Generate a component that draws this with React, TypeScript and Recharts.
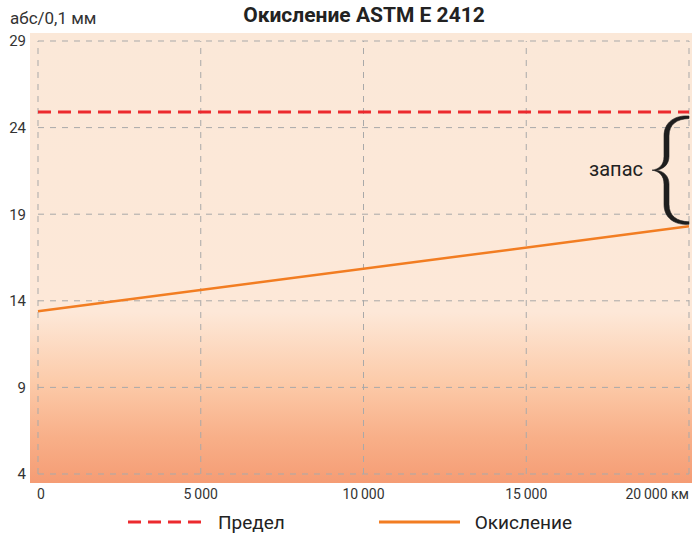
import React from "react";
import {
  LineChart, Line, XAxis, YAxis, CartesianGrid, ReferenceLine, Legend,
} from "recharts";

// пробег, км
const kmPoints = [0, 20000];
const limitValues = [24.9, 24.9];
const oxidationValues = [13.4, 18.3];

const xTicks = [0, 5000, 10000, 15000, 20000];
const xTickLabels = ["0", "5\u2009000", "10\u2009000", "15\u2009000", "20\u2009000\u00a0км"];
const yTicks = [4, 9, 14, 19, 24, 29];

const limitData = kmPoints.map((x, i) => ({ x, y: limitValues[i] }));
const oxidationData = kmPoints.map((x, i) => ({ x, y: oxidationValues[i] }));

const FONT = "Roboto, 'DejaVu Sans', sans-serif";
const RED = "#ec2a2e";
const ORANGE = "#f27d22";
const GRID = "#a9a9a9";

const XTick = (props: any) => {
  const { x, y, index } = props;
  const last = index === xTicks.length - 1;
  const anchor = index === 0 ? "start" : last ? "end" : "middle";
  return (
    <text x={index === 0 ? x - 1 : x} y={y} dy="0.71em" textAnchor={anchor}
      fontSize={14} fill="#333" fontFamily={FONT}>
      {xTickLabels[index]}
    </text>
  );
};

// фигурная скобка "запас" между пределом и концом линии
const Brace = (props: any) => {
  const { x1, y1, y2 } = props;
  const X = x1;
  const T = Math.min(y1, y2) + 4;
  const B = Math.max(y1, y2) - 2;
  const M = (T + B) / 2;
  const S = X - 22;
  const d = `M${X},${T} C${X - 14},${T - 1} ${S - 3},${T + 6} ${S - 3},${T + 20}
    L${S - 3},${M - 14} C${S - 3},${M - 5} ${S - 8},${M - 1} ${X - 37},${M}
    C${S - 8},${M + 1} ${S - 3},${M + 5} ${S - 3},${M + 14}
    L${S - 3},${B - 20} C${S - 3},${B - 6} ${X - 14},${B + 1} ${X},${B}
    L${X},${B - 2.5} C${X - 12},${B - 3} ${S + 2},${B - 8} ${S + 2},${B - 20}
    L${S + 2},${M + 14} C${S + 2},${M + 6} ${S - 3},${M + 1} ${X - 33},${M}
    C${S - 3},${M - 1} ${S + 2},${M - 6} ${S + 2},${M - 14}
    L${S + 2},${T + 20} C${S + 2},${T + 8} ${X - 12},${T + 3} ${X},${T + 2.5} Z`;
  return (
    <g>
      <path d={d} fill="#1e1e1e" stroke="#1e1e1e" strokeWidth={0.6} strokeLinejoin="round" />
      <text x={X - 46} y={M + 6} textAnchor="end" fontSize={20} fill="#222" fontFamily={FONT}>
        запас
      </text>
    </g>
  );
};

const LegendContent = () => (
  <div style={{
    display: "flex", justifyContent: "center", alignItems: "center", height: 22,
    fontFamily: FONT, fontSize: 19, color: "#222", paddingLeft: 8,
  }}>
    <svg width={74} height={6} style={{ marginRight: 16 }}>
      <line x1={0} y1={3} x2={74} y2={3} stroke={RED} strokeWidth={3} strokeDasharray="13 7" />
    </svg>
    <span style={{ marginRight: 94 }}>Предел</span>
    <svg width={81} height={6} style={{ marginRight: 15 }}>
      <line x1={0} y1={3} x2={81} y2={3} stroke={ORANGE} strokeWidth={3} />
    </svg>
    <span>Окисление</span>
  </div>
);

export default function App() {
  return (
    <div style={{ position: "absolute", left: 0, top: 0 }}>
      <LineChart width={692} height={533} margin={{ top: 33, right: 0, left: 0, bottom: 0 }}>
        <defs>
          <linearGradient id="bg" x1="0" y1="0" x2="0" y2="1">
            <stop offset="0" stopColor="#fbe8d8" />
            <stop offset="0.62" stopColor="#fde8d8" />
            <stop offset="0.78" stopColor="#fccaa8" />
            <stop offset="0.9" stopColor="#f8af88" />
            <stop offset="1" stopColor="#f59c74" />
          </linearGradient>
        </defs>
        <text x={364} y={22} textAnchor="middle" fontSize={21} fontWeight={700}
          fill="#222" fontFamily={FONT}>
          Окисление ASTM E 2412
        </text>
        <text x={10} y={24} fontSize={17} fill="#333" fontFamily={FONT}>
          абс/0,1 мм
        </text>
        <CartesianGrid horizontal={false} vertical={false} fill="url(#bg)" fillOpacity={1} stroke="none" />
        <XAxis type="number" dataKey="x" domain={[0, 20000]} ticks={xTicks}
          padding={{ left: 8, right: 3 }} height={28} axisLine={false} tickLine={false}
          tickSize={0} tickMargin={6} tick={<XTick />} interval={0} />
        <YAxis type="number" dataKey="y" domain={[4, 29]} ticks={yTicks}
          padding={{ top: 8, bottom: 9 }} width={30} axisLine={false} tickLine={false}
          tickSize={0} tickMargin={4} interval={0}
          tick={{ fontSize: 15, fill: "#333", fontFamily: FONT }} />
        {yTicks.map((v) => (
          <ReferenceLine key={"h" + v} segment={[{ x: xTicks[0], y: v }, { x: xTicks[xTicks.length - 1], y: v }]}
            stroke={GRID} strokeDasharray="6 6" strokeWidth={1} />
        ))}
        {xTicks.map((v) => (
          <ReferenceLine key={"v" + v} segment={[{ x: v, y: yTicks[0] }, { x: v, y: yTicks[yTicks.length - 1] }]}
            stroke={GRID} strokeDasharray="6 6" strokeWidth={1} />
        ))}
        <Line data={limitData} dataKey="y" name="Предел" stroke={RED} strokeWidth={3}
          strokeDasharray="13 7" dot={false} activeDot={false} isAnimationActive={false} />
        <Line data={oxidationData} dataKey="y" name="Окисление" stroke={ORANGE} strokeWidth={2.5}
          dot={false} activeDot={false} isAnimationActive={false} />
        <ReferenceLine
          segment={[
            { x: kmPoints[kmPoints.length - 1], y: limitValues[limitValues.length - 1] },
            { x: kmPoints[kmPoints.length - 1], y: oxidationValues[oxidationValues.length - 1] },
          ]}
          shape={(p: any) => <Brace {...p} />}
        />
        <Legend verticalAlign="bottom" height={22} content={<LegendContent />} />
      </LineChart>
    </div>
  );
}
